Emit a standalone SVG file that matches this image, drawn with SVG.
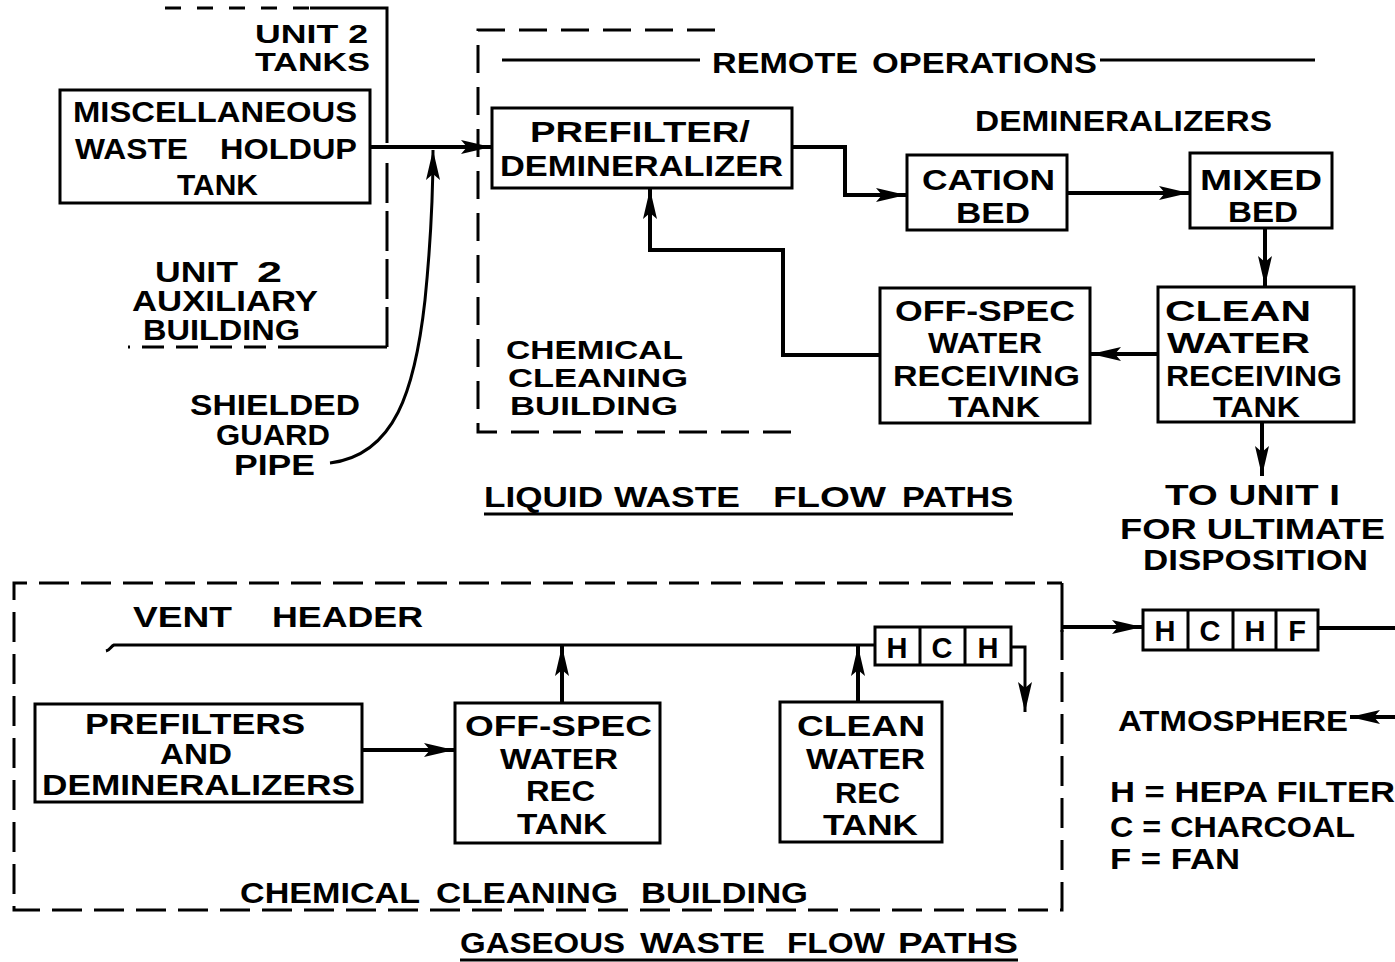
<svg xmlns="http://www.w3.org/2000/svg" width="1395" height="962" viewBox="0 0 1395 962">
<style>
.t{font-family:"Liberation Sans",Arial,sans-serif;font-weight:bold;font-size:29px;fill:#000}
.s{font-size:26px}
.b{fill:none;stroke:#000;stroke-width:3}
.c{fill:none;stroke:#000;stroke-width:4}
.d{fill:none;stroke:#000;stroke-width:3;stroke-dasharray:30 12}
.u{stroke:#000;stroke-width:3}
</style>
<defs>
<marker id="arr" markerUnits="userSpaceOnUse" viewBox="0 0 30 16" refX="30" refY="8" markerWidth="30" markerHeight="16" orient="auto">
<path d="M0,1 L30,8 L0,15 L6,8 z" fill="#000"/>
</marker>
</defs>
<rect width="1395" height="962" fill="#fff"/>

<g id="boundaries">
<path class="d" d="M165,8 H310" style="stroke-dasharray:16 16"/>
<path class="b" d="M310,8 H387 V143"/>
<path class="d" d="M387,163 V347" style="stroke-dasharray:40 8"/>
<path class="b" d="M387,347 H300"/>
<path class="d" d="M300,347 H128" style="stroke-dasharray:22 12"/>
<path class="d" d="M715,30 H478 V432 H805" style="stroke-dasharray:28 14"/>
<path class="d" d="M1062,630 V910 H14 V583 H1062"/>
<path class="b" d="M1062,583 V632"/>
</g>

<g id="labels">
<text class="t s" x="255" y="43" textLength="113" lengthAdjust="spacingAndGlyphs">UNIT 2</text>
<text class="t s" x="255" y="71" textLength="115" lengthAdjust="spacingAndGlyphs">TANKS</text>
<text class="t" x="155" y="282" textLength="83" lengthAdjust="spacingAndGlyphs">UNIT</text>
<text class="t" x="257" y="282" textLength="25" lengthAdjust="spacingAndGlyphs">2</text>
<text class="t" x="132" y="311" textLength="186" lengthAdjust="spacingAndGlyphs">AUXILIARY</text>
<text class="t" x="143" y="340" textLength="157" lengthAdjust="spacingAndGlyphs">BUILDING</text>
<text class="t" x="190" y="415" textLength="170" lengthAdjust="spacingAndGlyphs">SHIELDED</text>
<text class="t" x="216" y="445" textLength="114" lengthAdjust="spacingAndGlyphs">GUARD</text>
<text class="t" x="234" y="475" textLength="81" lengthAdjust="spacingAndGlyphs">PIPE</text>
<path class="b" d="M502,60 H700 M1100,60 H1315"/>
<text class="t" x="712" y="73" textLength="146" lengthAdjust="spacingAndGlyphs">REMOTE</text>
<text class="t" x="872" y="73" textLength="225" lengthAdjust="spacingAndGlyphs">OPERATIONS</text>
<text class="t" x="975" y="131" textLength="297" lengthAdjust="spacingAndGlyphs">DEMINERALIZERS</text>
<text class="t s" x="506" y="359" textLength="177" lengthAdjust="spacingAndGlyphs">CHEMICAL</text>
<text class="t s" x="508" y="387" textLength="180" lengthAdjust="spacingAndGlyphs">CLEANING</text>
<text class="t s" x="510" y="415" textLength="168" lengthAdjust="spacingAndGlyphs">BUILDING</text>
<text class="t" x="484" y="507" textLength="119" lengthAdjust="spacingAndGlyphs">LIQUID</text>
<text class="t" x="614" y="507" textLength="126" lengthAdjust="spacingAndGlyphs">WASTE</text>
<text class="t" x="773" y="507" textLength="113" lengthAdjust="spacingAndGlyphs">FLOW</text>
<text class="t" x="902" y="507" textLength="111" lengthAdjust="spacingAndGlyphs">PATHS</text>
<line class="u" x1="484" y1="514" x2="1013" y2="514"/>
<text class="t" x="1165" y="505" textLength="175" lengthAdjust="spacingAndGlyphs">TO UNIT I</text>
<text class="t" x="1120" y="539" textLength="265" lengthAdjust="spacingAndGlyphs">FOR ULTIMATE</text>
<text class="t" x="1143" y="570" textLength="225" lengthAdjust="spacingAndGlyphs">DISPOSITION</text>
<text class="t" x="133" y="627" textLength="99" lengthAdjust="spacingAndGlyphs">VENT</text>
<text class="t" x="272" y="627" textLength="151" lengthAdjust="spacingAndGlyphs">HEADER</text>
<text class="t" x="240" y="903" textLength="180" lengthAdjust="spacingAndGlyphs">CHEMICAL</text>
<text class="t" x="436" y="903" textLength="182" lengthAdjust="spacingAndGlyphs">CLEANING</text>
<text class="t" x="641" y="903" textLength="167" lengthAdjust="spacingAndGlyphs">BUILDING</text>
<text class="t" x="460" y="953" textLength="165" lengthAdjust="spacingAndGlyphs">GASEOUS</text>
<text class="t" x="640" y="953" textLength="125" lengthAdjust="spacingAndGlyphs">WASTE</text>
<text class="t" x="787" y="953" textLength="98" lengthAdjust="spacingAndGlyphs">FLOW</text>
<text class="t" x="898" y="953" textLength="120" lengthAdjust="spacingAndGlyphs">PATHS</text>
<line class="u" x1="460" y1="960" x2="1018" y2="960"/>
<text class="t" x="1118" y="731" textLength="230" lengthAdjust="spacingAndGlyphs">ATMOSPHERE</text>
<text class="t" x="1110" y="802" textLength="285" lengthAdjust="spacingAndGlyphs">H = HEPA FILTER</text>
<text class="t" x="1110" y="837" textLength="245" lengthAdjust="spacingAndGlyphs">C = CHARCOAL</text>
<text class="t" x="1110" y="869" textLength="130" lengthAdjust="spacingAndGlyphs">F = FAN</text>
</g>

<g id="misc-tank">
<rect class="b" x="60" y="90" width="310" height="113"/>
<text class="t" x="73" y="122" textLength="284" lengthAdjust="spacingAndGlyphs">MISCELLANEOUS</text>
<text class="t" x="75" y="159" textLength="113" lengthAdjust="spacingAndGlyphs">WASTE</text>
<text class="t" x="220" y="159" textLength="137" lengthAdjust="spacingAndGlyphs">HOLDUP</text>
<text class="t" x="177" y="195" textLength="81" lengthAdjust="spacingAndGlyphs">TANK</text>
</g>

<g id="prefilter-demin">
<rect class="b" x="492" y="108" width="300" height="80"/>
<text class="t" x="530" y="142" textLength="220" lengthAdjust="spacingAndGlyphs">PREFILTER/</text>
<text class="t" x="500" y="176" textLength="283" lengthAdjust="spacingAndGlyphs">DEMINERALIZER</text>
</g>

<g id="cation-bed">
<rect class="b" x="907" y="155" width="160" height="75"/>
<text class="t" x="922" y="190" textLength="133" lengthAdjust="spacingAndGlyphs">CATION</text>
<text class="t" x="956" y="223" textLength="74" lengthAdjust="spacingAndGlyphs">BED</text>
</g>

<g id="mixed-bed">
<rect class="b" x="1190" y="153" width="142" height="75"/>
<text class="t" x="1200" y="190" textLength="122" lengthAdjust="spacingAndGlyphs">MIXED</text>
<text class="t" x="1228" y="222" textLength="70" lengthAdjust="spacingAndGlyphs">BED</text>
</g>

<g id="clean-water-receiving">
<rect class="b" x="1158" y="287" width="196" height="135"/>
<text class="t" x="1165" y="321" textLength="146" lengthAdjust="spacingAndGlyphs">CLEAN</text>
<text class="t" x="1167" y="353" textLength="143" lengthAdjust="spacingAndGlyphs">WATER</text>
<text class="t" x="1166" y="386" textLength="176" lengthAdjust="spacingAndGlyphs">RECEIVING</text>
<text class="t" x="1213" y="417" textLength="87" lengthAdjust="spacingAndGlyphs">TANK</text>
</g>

<g id="offspec-water-receiving">
<rect class="b" x="880" y="288" width="210" height="135"/>
<text class="t" x="895" y="321" textLength="180" lengthAdjust="spacingAndGlyphs">OFF-SPEC</text>
<text class="t" x="928" y="353" textLength="114" lengthAdjust="spacingAndGlyphs">WATER</text>
<text class="t" x="893" y="386" textLength="187" lengthAdjust="spacingAndGlyphs">RECEIVING</text>
<text class="t" x="948" y="417" textLength="92" lengthAdjust="spacingAndGlyphs">TANK</text>
</g>

<g id="prefilters-demins">
<rect class="b" x="35" y="704" width="327" height="98"/>
<text class="t" x="85" y="734" textLength="220" lengthAdjust="spacingAndGlyphs">PREFILTERS</text>
<text class="t" x="160" y="764" textLength="72" lengthAdjust="spacingAndGlyphs">AND</text>
<text class="t" x="42" y="795" textLength="313" lengthAdjust="spacingAndGlyphs">DEMINERALIZERS</text>
</g>

<g id="offspec-rec-tank">
<rect class="b" x="455" y="703" width="205" height="140"/>
<text class="t" x="465" y="736" textLength="187" lengthAdjust="spacingAndGlyphs">OFF-SPEC</text>
<text class="t" x="500" y="769" textLength="118" lengthAdjust="spacingAndGlyphs">WATER</text>
<text class="t" x="526" y="801" textLength="69" lengthAdjust="spacingAndGlyphs">REC</text>
<text class="t" x="517" y="834" textLength="90" lengthAdjust="spacingAndGlyphs">TANK</text>
</g>

<g id="clean-rec-tank">
<rect class="b" x="780" y="702" width="162" height="140"/>
<text class="t" x="797" y="736" textLength="128" lengthAdjust="spacingAndGlyphs">CLEAN</text>
<text class="t" x="806" y="769" textLength="119" lengthAdjust="spacingAndGlyphs">WATER</text>
<text class="t" x="835" y="803" textLength="65" lengthAdjust="spacingAndGlyphs">REC</text>
<text class="t" x="823" y="835" textLength="95" lengthAdjust="spacingAndGlyphs">TANK</text>
</g>

<g id="hch-filter">
<rect class="b" x="875" y="627" width="136" height="38"/>
<path class="b" d="M920,627 V665 M965,627 V665"/>
<text class="t" x="897" y="658" text-anchor="middle">H</text>
<text class="t" x="942" y="658" text-anchor="middle">C</text>
<text class="t" x="988" y="658" text-anchor="middle">H</text>
</g>

<g id="hchf-filter">
<rect class="b" x="1143" y="610" width="175" height="40"/>
<path class="b" d="M1188,610 V650 M1233,610 V650 M1276,610 V650"/>
<text class="t" x="1165" y="641" text-anchor="middle">H</text>
<text class="t" x="1210" y="641" text-anchor="middle">C</text>
<text class="t" x="1255" y="641" text-anchor="middle">H</text>
<text class="t" x="1297" y="641" text-anchor="middle">F</text>
</g>

<g id="connectors">
<path class="c" d="M370,147 H491" marker-end="url(#arr)"/>
<path class="b" d="M330,463 C395,455 415,390 425,300 C430,250 433,200 433,150" marker-end="url(#arr)"/>
<path class="c" d="M792,147 H845 V195 H906" marker-end="url(#arr)"/>
<path class="c" d="M1067,193 H1189" marker-end="url(#arr)"/>
<path class="c" d="M1265,228 V286" marker-end="url(#arr)"/>
<path class="c" d="M1158,354 H1091" marker-end="url(#arr)"/>
<path class="c" d="M880,355 H783 V250 H650 V189" marker-end="url(#arr)"/>
<path class="c" d="M1262,422 V476" marker-end="url(#arr)"/>
<path class="b" d="M106,651 C110,650 111,646 114,645 H875"/>
<path class="c" d="M362,750 H454" marker-end="url(#arr)"/>
<path class="c" d="M562,703 V646" marker-end="url(#arr)"/>
<path class="c" d="M858,702 V646" marker-end="url(#arr)"/>
<path class="b" d="M1011,647 H1025 V712" marker-end="url(#arr)"/>
<path class="c" d="M1062,627 H1142" marker-end="url(#arr)"/>
<path class="c" d="M1318,628 H1395"/>
<path class="c" d="M1395,717 H1350" marker-end="url(#arr)"/>
</g>
</svg>
